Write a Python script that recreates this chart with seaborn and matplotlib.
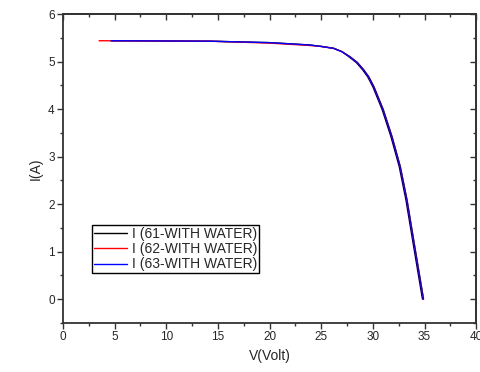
import pandas as pd
import numpy as np
import matplotlib.pyplot as plt
from matplotlib.ticker import MultipleLocator
import seaborn as sns

sns.set_theme(style='ticks')
plt.rcParams['font.family'] = ['Liberation Sans', 'DejaVu Sans']

# I-V curves
v_61 = [4.6, 10, 14.3, 20, 23.9, 25, 26.2, 27.0, 27.7, 28.4, 29.0, 29.5, 30.0, 30.9, 31.75, 32.55, 33.2, 34.0, 34.8]
i_61 = [5.44, 5.435, 5.43, 5.40, 5.35, 5.32, 5.28, 5.21, 5.10, 4.98, 4.83, 4.68, 4.47, 3.99, 3.42, 2.79, 2.09, 1.04, 0.0]
v_62 = [3.5, 10, 14.3, 20, 23.9, 25, 26.2, 27.0, 27.8, 28.5, 29.1, 29.6, 30.1, 31.0, 31.85, 32.65, 33.3, 34.1, 34.9]
i_62 = [5.44, 5.435, 5.43, 5.39, 5.34, 5.32, 5.28, 5.21, 5.10, 4.98, 4.83, 4.68, 4.47, 3.99, 3.42, 2.79, 2.09, 1.04, 0.0]
v_63 = [4.7, 10, 14.3, 20, 23.9, 25, 26.2, 27.0, 27.8, 28.5, 29.1, 29.6, 30.1, 31.0, 31.85, 32.65, 33.3, 34.1, 34.9]
i_63 = [5.44, 5.435, 5.43, 5.40, 5.35, 5.32, 5.28, 5.21, 5.10, 4.98, 4.83, 4.68, 4.47, 3.99, 3.42, 2.79, 2.09, 1.04, 0.0]
labels = ['I (61-WITH WATER)', 'I (62-WITH WATER)', 'I (63-WITH WATER)']

df = pd.concat([
    pd.DataFrame({'V': v_61, 'I': i_61, 'series': labels[0]}),
    pd.DataFrame({'V': v_62, 'I': i_62, 'series': labels[1]}),
    pd.DataFrame({'V': v_63, 'I': i_63, 'series': labels[2]}),
])

fig = plt.figure(figsize=(4.81, 3.72), dpi=100)
ax = fig.add_axes([0.131, 0.132, 0.859, 0.830])

sns.lineplot(data=df, x='V', y='I', hue='series', estimator=None, sort=False,
             palette=['black', 'red', 'blue'], linewidth=1.0, ax=ax)

ax.set_xlim(0, 40)
ax.set_ylim(-0.5, 6)
ax.xaxis.set_major_locator(MultipleLocator(5))
ax.xaxis.set_minor_locator(MultipleLocator(2.5))
ax.yaxis.set_major_locator(MultipleLocator(1))
ax.yaxis.set_minor_locator(MultipleLocator(0.5))
ax.tick_params(axis='both', which='major', direction='out', length=4, width=1,
               labelsize=8.5, pad=2, color='#333333')
ax.tick_params(axis='both', which='minor', direction='out', length=2.5, width=1,
               color='#333333')

# inward ticks on top and right, Origin style
sec_x = ax.secondary_xaxis('top')
sec_x.xaxis.set_major_locator(MultipleLocator(5))
sec_x.xaxis.set_minor_locator(MultipleLocator(2.5))
sec_x.tick_params(which='major', direction='in', length=4, width=1, labeltop=False, color='#333333')
sec_x.tick_params(which='minor', direction='in', length=2.5, width=1, color='#333333')
sec_y = ax.secondary_yaxis('right')
sec_y.yaxis.set_major_locator(MultipleLocator(1))
sec_y.yaxis.set_minor_locator(MultipleLocator(0.5))
sec_y.tick_params(which='major', direction='in', length=4, width=1, labelright=False, color='#333333')
sec_y.tick_params(which='minor', direction='in', length=2.5, width=1, color='#333333')
sec_x.spines['top'].set_color('#333333')
sec_y.spines['right'].set_color('#333333')

for s in ax.spines.values():
    s.set_visible(True)
    s.set_linewidth(1.3)
    s.set_color('#333333')

ax.set_xlabel('V(Volt)', fontsize=10)
ax.set_ylabel('I(A)', fontsize=10)

ax.legend(loc='lower left', bbox_to_anchor=(0.07, 0.16), fontsize=10,
          frameon=True, fancybox=False, edgecolor='black', framealpha=1,
          handlelength=2.4, handletextpad=0.3, borderpad=0.15, labelspacing=0.1,
          borderaxespad=0)
ax.get_legend().get_frame().set_linewidth(1.0)

fig.savefig('out.png', dpi=100)
